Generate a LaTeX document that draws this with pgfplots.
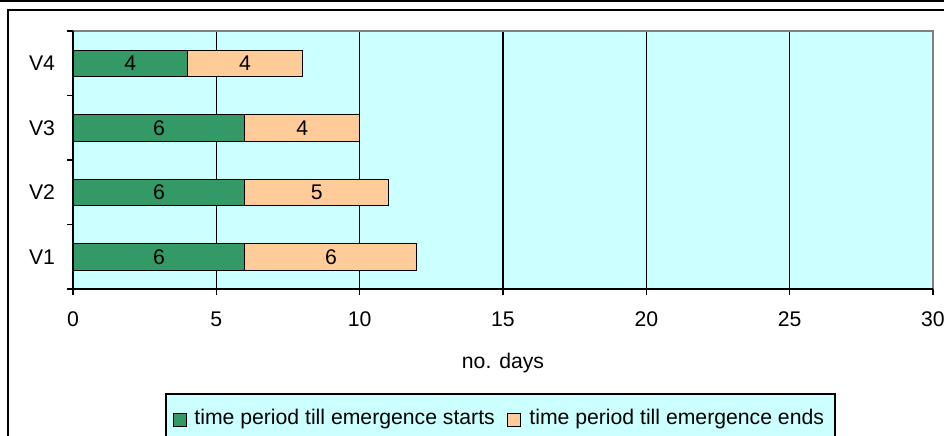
\documentclass[border=0pt]{standalone}
\usepackage{fontspec}
\setmainfont{Liberation Sans}
\usepackage{pgfplots}
\pgfplotsset{compat=1.18}
\definecolor{bg}{HTML}{CCFFFF}
\definecolor{barA}{HTML}{339966}
\definecolor{barB}{HTML}{FFCC99}
\definecolor{frm}{HTML}{808080}
\newcommand{\fs}{\fontsize{10.6}{12.7}\selectfont}
\begin{document}
\begin{tikzpicture}
\useasboundingbox (0pt,0pt) rectangle (472pt,217.5pt);
\fill[white] (0pt,0pt) rectangle (472pt,217.5pt);
\draw[line width=1pt] (0pt,217pt) -- (472pt,217pt);
\draw[line width=0.7pt] (4pt,-10pt) -- (4pt,212.5pt) -- (480pt,212.5pt);
\begin{axis}[
  at={(36.5pt,73pt)}, anchor=south west,
  scale only axis, width=430pt, height=129pt,
  xmin=0, xmax=30, ymin=0.5, ymax=4.5,
  xtick={0,5,...,30},
  ytick={0.5,1.5,2.5,3.5,4.5}, yticklabels={},
  extra y ticks={1,2,3,4}, extra y tick labels={V1,V2,V3,V4},
  extra y tick style={major tick length=0pt},
  tick align=outside, major tick length=3pt,
  xtick pos=bottom, ytick pos=left,
  tick style={draw=black, line width=0.6pt},
  xmajorgrids, grid style={black, line width=0.6pt},
  axis line style={draw=none},
  axis background/.style={fill=bg},
  tick label style={font=\fs},
  /pgf/number format/assume math mode=true,
  xticklabel style={yshift=-5pt},
  yticklabel style={xshift=-5.5pt},
  xlabel={no. days},
  xlabel style={font=\fs, at={(axis description cs:0.5,-0.287)}, anchor=center},
  bar width=13.25pt,
  clip=false,
  after end axis/.code={
    \draw[frm, line width=0.8pt] (rel axis cs:0,1) -- (rel axis cs:1,1) -- (rel axis cs:1,0);
    \draw[black, line width=0.6pt] (rel axis cs:0,1) -- (rel axis cs:0,0) -- (rel axis cs:1,0);
  },
]
\addplot[xbar stacked, fill=barA, draw=black, line width=0.5pt] coordinates {(6,1) (6,2) (6,3) (4,4)};
\addplot[xbar stacked, fill=barB, draw=black, line width=0.5pt] coordinates {(6,1) (5,2) (4,3) (4,4)};
\addplot[draw=none, mark=none, nodes near coords, point meta=explicit symbolic,
  every node near coord/.append style={font=\fs, anchor=center, text=black}]
  table[meta=l] {
x y l
3 1 6
9 1 6
3 2 6
8.5 2 5
3 3 6
8 3 4
2 4 4
6 4 4
};
\end{axis}
% legend
\draw[fill=bg, line width=0.6pt] (83pt,20.5pt) rectangle (417.5pt,-5pt);
\draw[fill=barA, line width=0.6pt] (86.75pt,10.75pt) rectangle (93.25pt,4.25pt);
\node[anchor=west, inner sep=0pt, font=\fs] at (97pt,8pt) {time period till emergence starts};
\draw[fill=barB, line width=0.6pt] (253.75pt,10.75pt) rectangle (260.25pt,4.25pt);
\node[anchor=west, inner sep=0pt, font=\fs] at (264.5pt,8pt) {time period till emergence ends};
\end{tikzpicture}
\end{document}
